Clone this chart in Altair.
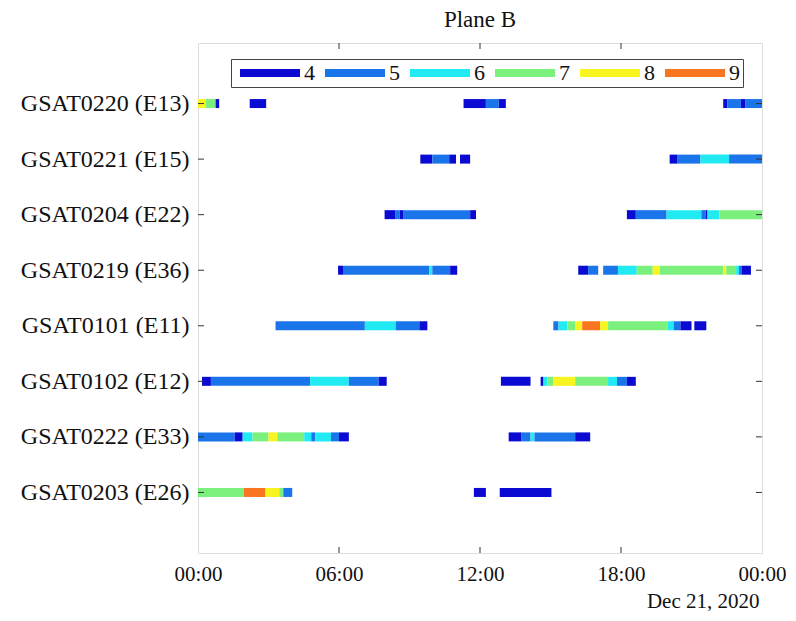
import json
import altair as alt
import pandas as pd

# ---------------- data ----------------
satellites = ["GSAT0220 (E13)", "GSAT0221 (E15)", "GSAT0204 (E22)", "GSAT0219 (E36)",
              "GSAT0101 (E11)", "GSAT0102 (E12)", "GSAT0222 (E33)", "GSAT0203 (E26)"]

# (start hour, end hour, number of visible satellites)
seg_E13 = [(0.0, 0.33, 8), (0.33, 0.75, 7), (0.75, 0.9, 4), (2.2, 2.9, 4),
           (11.3, 12.25, 4), (12.25, 12.8, 5), (12.8, 13.1, 4),
           (22.35, 22.52, 4), (22.52, 23.1, 5), (23.1, 23.28, 4), (23.28, 24.0, 5)]
seg_E15 = [(9.46, 9.97, 4), (9.97, 10.69, 5), (10.69, 10.98, 4), (11.15, 11.58, 4),
           (20.07, 20.41, 4), (20.41, 21.38, 5), (21.38, 22.6, 6), (22.6, 24.0, 5)]
seg_E22 = [(7.94, 8.41, 4), (8.41, 8.58, 5), (8.58, 8.75, 4), (8.75, 11.58, 5), (11.58, 11.83, 4),
           (18.25, 18.63, 4), (18.63, 19.94, 5), (19.94, 21.42, 6), (21.42, 21.6, 5),
           (21.6, 21.68, 4), (21.68, 22.18, 6), (22.18, 24.0, 7)]
seg_E36 = [(5.96, 6.17, 4), (6.17, 9.84, 5), (9.84, 9.97, 6), (9.97, 10.73, 5), (10.73, 11.03, 4),
           (16.18, 16.6, 4), (16.6, 17.03, 5), (17.24, 17.87, 5), (17.87, 18.67, 6),
           (18.67, 19.35, 7), (19.35, 19.65, 8), (19.65, 22.35, 7), (22.35, 22.48, 8),
           (22.48, 22.9, 7), (22.9, 23.02, 6), (23.02, 23.15, 5), (23.15, 23.53, 4)]
seg_E11 = [(3.3, 7.1, 5), (7.1, 8.41, 6), (8.41, 9.42, 5), (9.42, 9.76, 4),
           (15.12, 15.34, 5), (15.34, 15.72, 6), (15.72, 16.05, 7), (16.05, 16.35, 8),
           (16.35, 17.11, 9), (17.11, 17.45, 8), (17.45, 19.98, 7), (19.98, 20.24, 6),
           (20.24, 20.53, 5), (20.53, 21.0, 4), (21.12, 21.63, 4)]
seg_E12 = [(0.17, 0.55, 4), (0.55, 4.77, 5), (4.77, 6.42, 6), (6.42, 7.69, 5), (7.69, 8.03, 4),
           (12.89, 14.15, 4), (14.58, 14.7, 4), (14.7, 14.87, 6), (14.87, 15.12, 7),
           (15.12, 16.05, 8), (16.05, 17.45, 7), (17.45, 17.83, 6), (17.83, 18.25, 5),
           (18.25, 18.63, 4)]
seg_E33 = [(0.0, 1.56, 5), (1.56, 1.9, 4), (1.9, 2.32, 6), (2.32, 3.0, 7), (3.0, 3.38, 8),
           (3.38, 4.52, 7), (4.52, 4.82, 6), (4.82, 4.99, 5), (4.99, 5.66, 6), (5.66, 6.0, 5),
           (6.0, 6.42, 4),
           (13.22, 13.77, 4), (13.77, 14.15, 5), (14.15, 14.32, 6), (14.32, 16.05, 5),
           (16.05, 16.69, 4)]
seg_E26 = [(0.0, 1.95, 7), (1.95, 2.87, 9), (2.87, 3.46, 8), (3.46, 3.63, 7), (3.63, 4.01, 5),
           (11.74, 12.25, 4), (12.84, 15.04, 4)]

segments = [seg_E13, seg_E15, seg_E22, seg_E36, seg_E11, seg_E12, seg_E33, seg_E26]

levels = ["4", "5", "6", "7", "8", "9"]
level_colors = ["#0a0ad2", "#1a74ea", "#22eaf2", "#7cf07c", "#f8f420", "#fa7520"]

x_ticks = [0, 6, 12, 18, 24]
row_ids = list(range(1, len(satellites) + 1))

# ---------------- tables ----------------
rows = []
for i, segs in enumerate(segments):
    for s, e, v in segs:
        rows.append({"row": i + 1, "start": s, "end": e, "n": str(v)})
df = pd.DataFrame(rows)
xt = pd.DataFrame({"h": x_ticks[1:-1]})
yt = pd.DataFrame({"row": row_ids})

W, H = 564, 510
FONT = "Liberation Serif"
TICK = 6

label_expr = json.dumps([""] + satellites + [""]) + "[datum.value]"
x_label_expr = "(datum.value % 24 < 10 ? '0' : '') + (datum.value % 24) + ':00'"

xscale = alt.Scale(domain=[0, 24], nice=False, zero=False)
yscale = alt.Scale(domain=[0, 9], reverse=True, nice=False, zero=False)

bars = alt.Chart(df).mark_bar(size=9).encode(
    x=alt.X("start:Q", scale=xscale,
            axis=alt.Axis(values=x_ticks, labelExpr=x_label_expr, grid=False, ticks=False,
                          domain=False, labelFont=FONT, labelFontSize=21, labelColor="#111",
                          labelPadding=10, title="Dec 21, 2020", titleFont=FONT,
                          titleFontSize=21, titleFontWeight="normal", titleColor="#111",
                          titleAnchor="end", titleAlign="right", titleX=W - 3,
                          titlePadding=6, labelFlush=False)),
    x2="end:Q",
    y=alt.Y("row:Q", scale=yscale,
            axis=alt.Axis(values=row_ids, labelExpr=label_expr, grid=False, ticks=False,
                          domain=False, labelFont=FONT, labelFontSize=24, labelColor="#111",
                          labelPadding=9, title=None, minExtent=190, maxExtent=190)),
    color=alt.Color("n:N", scale=alt.Scale(domain=levels, range=level_colors),
                    legend=alt.Legend(orient="none", legendX=33, legendY=16,
                                      direction="horizontal", columns=6, title=None,
                                      symbolType="M-1,-0.8H11V0.8H-1Z", symbolSize=100,
                                      symbolStrokeWidth=0, symbolOpacity=1,
                                      labelFont=FONT, labelFontSize=22, labelColor="#111",
                                      labelOffset=48, columnPadding=4, padding=3,
                                      strokeColor="#444", fillColor="white")),
)

tick_color = "#333"
xt_bottom = alt.Chart(xt).mark_rule(color=tick_color).encode(
    x=alt.X("h:Q", scale=xscale), y=alt.value(H), y2=alt.value(H - TICK))
xt_top = alt.Chart(xt).mark_rule(color=tick_color).encode(
    x=alt.X("h:Q", scale=xscale), y=alt.value(0), y2=alt.value(TICK))
yt_left = alt.Chart(yt).mark_rule(color=tick_color).encode(
    y=alt.Y("row:Q", scale=yscale), x=alt.value(0), x2=alt.value(TICK))
yt_right = alt.Chart(yt).mark_rule(color=tick_color).encode(
    y=alt.Y("row:Q", scale=yscale), x=alt.value(W), x2=alt.value(W - TICK))

chart = alt.layer(bars, xt_bottom, xt_top, yt_left, yt_right).properties(
    width=W, height=H,
    title=alt.Title("Plane B", font=FONT, fontSize=23, fontWeight="normal", color="#111", offset=11),
    padding={"left": 0, "top": 0, "right": 0, "bottom": 0},
).configure_view(stroke="#444", strokeWidth=1.2).configure(background="white")

chart.save("out.html", embed_options={"renderer": "svg", "actions": False})
